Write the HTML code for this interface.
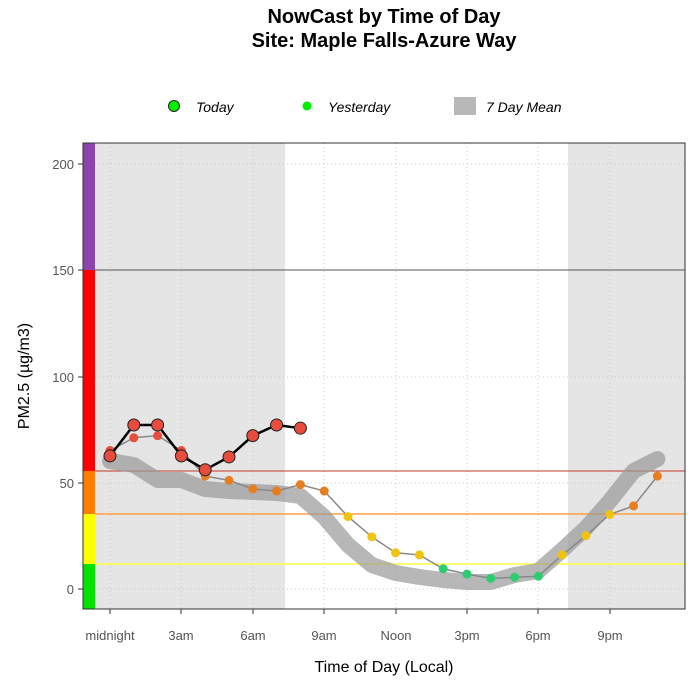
<!DOCTYPE html>
<html><head><meta charset="utf-8"><style>body{margin:0;background:#fff}svg{display:block;font-family:"Liberation Sans",sans-serif}</style></head><body>
<svg id="s" width="700" height="700" xmlns="http://www.w3.org/2000/svg">
<text x="384" y="23" text-anchor="middle" font-size="20" font-weight="bold">NowCast by Time of Day</text>
<text x="384" y="47" text-anchor="middle" font-size="20" font-weight="bold">Site: Maple Falls-Azure Way</text>
<circle cx="174" cy="106" r="5.5" fill="#00ee00" stroke="#222" stroke-width="1"/>
<text x="196" y="112" font-size="14" font-style="italic">Today</text>
<circle cx="307" cy="106" r="4.5" fill="#00ee00"/>
<text x="328" y="112" font-size="14" font-style="italic">Yesterday</text>
<rect x="454" y="97" width="22" height="18" fill="#b8b8b8"/>
<text x="486" y="112" font-size="14" font-style="italic">7 Day Mean</text>
<rect x="95" y="143" width="190" height="466" fill="#e5e5e5"/>
<rect x="568" y="143" width="117" height="466" fill="#e5e5e5"/>
<g stroke="#ccc" stroke-dasharray="1,3" stroke-width="1">
<line x1="95" x2="685" y1="589" y2="589"/><line x1="95" x2="685" y1="483" y2="483"/><line x1="95" x2="685" y1="377" y2="377"/><line x1="95" x2="685" y1="270" y2="270"/><line x1="95" x2="685" y1="164" y2="164"/>
<line x1="110" x2="110" y1="143" y2="609"/><line x1="181" x2="181" y1="143" y2="609"/><line x1="253" x2="253" y1="143" y2="609"/><line x1="324" x2="324" y1="143" y2="609"/><line x1="396" x2="396" y1="143" y2="609"/><line x1="467" x2="467" y1="143" y2="609"/><line x1="538" x2="538" y1="143" y2="609"/><line x1="610" x2="610" y1="143" y2="609"/>
</g>
<rect x="83" y="143" width="12" height="127" fill="#8e44ad"/>
<rect x="83" y="270" width="12" height="201" fill="#ff0000"/>
<rect x="83" y="471" width="12" height="43" fill="#ff7e00"/>
<rect x="83" y="514" width="12" height="50" fill="#ffff00"/>
<rect x="83" y="564" width="12" height="45" fill="#00e400"/>
<line x1="95" x2="685" y1="270" y2="270" stroke="#555" stroke-width="1"/>
<line x1="95" x2="685" y1="471" y2="471" stroke="#c0392b" stroke-width="1"/>
<line x1="95" x2="685" y1="514" y2="514" stroke="#ffa040" stroke-width="1.5"/>
<line x1="95" x2="685" y1="564" y2="564" stroke="#ffff40" stroke-width="1.5"/>
<g id="d"></g>
<rect x="83" y="143" width="602" height="466" fill="none" stroke="#333" stroke-width="1"/>
<g font-size="13" fill="#555" text-anchor="end">
<text x="74" y="594">0</text><text x="74" y="488">50</text><text x="74" y="382">100</text><text x="74" y="275">150</text><text x="74" y="169">200</text></g>
<g stroke="#333"><line x1="78" x2="83" y1="589" y2="589"/><line x1="78" x2="83" y1="483" y2="483"/><line x1="78" x2="83" y1="377" y2="377"/><line x1="78" x2="83" y1="270" y2="270"/><line x1="78" x2="83" y1="164" y2="164"/>
<line x1="110" x2="110" y1="609" y2="614"/><line x1="181" x2="181" y1="609" y2="614"/><line x1="253" x2="253" y1="609" y2="614"/><line x1="324" x2="324" y1="609" y2="614"/><line x1="396" x2="396" y1="609" y2="614"/><line x1="467" x2="467" y1="609" y2="614"/><line x1="538" x2="538" y1="609" y2="614"/><line x1="610" x2="610" y1="609" y2="614"/></g>
<g font-size="13" fill="#555" text-anchor="middle">
<text x="110" y="640">midnight</text><text x="181" y="640">3am</text><text x="253" y="640">6am</text><text x="324" y="640">9am</text><text x="396" y="640">Noon</text><text x="467" y="640">3pm</text><text x="538" y="640">6pm</text><text x="610" y="640">9pm</text></g>
<text x="384" y="672" text-anchor="middle" font-size="16">Time of Day (Local)</text>
<text transform="translate(29,376) rotate(-90)" text-anchor="middle" font-size="16">PM2.5 (µg/m3)</text>
</svg>
<script>
var g=document.getElementById('d'),NS='http://www.w3.org/2000/svg';
function X(h){return 110+h*23.8}
function el(t,a){var e=document.createElementNS(NS,t);for(var k in a)e.setAttribute(k,a[k]);g.appendChild(e);return e}
var m=[461,465,480,480,489,491,492,493,496,517,545,565,573,577,580,582,582,575,571,550,528,501,471,459];
el('polyline',{points:m.map(function(y,i){return X(i)+','+y}).join(' '),fill:'none',stroke:'#999','stroke-opacity':'0.7','stroke-width':'16','stroke-linejoin':'round','stroke-linecap':'round'});
var yv=[65,71,72,65,53,51,47,46,49,46,34,24.5,17,16,9.5,7,5,5.5,6,16,25,35,39,53];
function col(v){return v>55.5?'#e74c3c':v>35.5?'#e67e22':v>12?'#f1c40f':'#2ecc71'}
function Y(v){return 589-v*2.13}
el('polyline',{points:yv.map(function(v,i){return X(i)+','+Y(v)}).join(' '),fill:'none',stroke:'#888','stroke-width':'1.5'});
yv.forEach(function(v,i){el('circle',{cx:X(i),cy:Y(v),r:4.5,fill:col(v)})});
var tv=[62.5,77,77,62.5,56,62,72,77,75.5];
el('polyline',{points:tv.map(function(v,i){return X(i)+','+Y(v)}).join(' '),fill:'none',stroke:'#000','stroke-width':'2.5'});
tv.forEach(function(v,i){el('circle',{cx:X(i),cy:Y(v),r:6,fill:col(v),stroke:'#222','stroke-width':1})});
</script>
</body></html>
